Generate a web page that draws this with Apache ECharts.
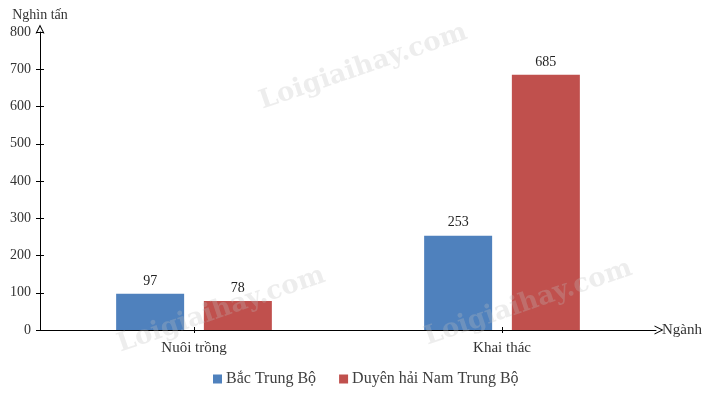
<!DOCTYPE html>
<html>
<head>
<meta charset="utf-8">
<script src="https://cdn.jsdelivr.net/npm/echarts@6/dist/echarts.min.js"></script>
<style>html,body{margin:0;padding:0;background:#fff}#c{width:706px;height:393px}</style>
</head>
<body>
<div id="c"></div>
<script>
const categories = ['Nuôi trồng', 'Khai thác'];
const seriesNames = ['Bắc Trung Bộ', 'Duyên hải Nam Trung Bộ'];
const bacTrungBo = [97, 253];
const duyenHaiNTB = [78, 685];
const yTicks = [0, 100, 200, 300, 400, 500, 600, 700, 800];

const FONT = '"Liberation Serif", "Times New Roman", serif';
const arrowUp = 'path://M0,10 L5,0 L10,10 L8.8,10 L5,2.4 L1.2,10 Z';
const chart = echarts.init(document.getElementById('c'));
const wmStyle = { text: 'Loigiaihay.com', fontFamily: '"DejaVu Serif", serif', fontWeight: 'bold', fontSize: 26, fill: 'rgba(190,190,190,0.28)' };
chart.setOption({
  animation: false,
  grid: { left: 40, right: 50, top: 32, bottom: 63, containLabel: false },
  legend: {
    top: 366, left: 208, itemWidth: 9, itemHeight: 9, itemGap: 23,
    icon: 'rect',
    textStyle: { fontFamily: FONT, fontSize: 16, color: '#404040', padding: [0,0,0,-1] },
    data: seriesNames
  },
  xAxis: [{
    type: 'category', data: categories,
    axisLine: { lineStyle: { color: '#000', width: 1 }, symbol: ['none', arrowUp], symbolSize: [9, 11], symbolOffset: [0, 3] },
    axisTick: { show: true, alignWithLabel: true, length: 3, lineStyle: { color: '#000' } },
    axisLabel: { fontFamily: FONT, fontSize: 15, color: '#333', margin: 11 },
    name: 'Ngành', nameLocation: 'end', nameGap: 6,
    nameTextStyle: { fontFamily: FONT, fontSize: 15, color: '#333', verticalAlign: 'middle' }
  }, {
    type: 'category', data: categories, position: 'bottom',
    axisLine: { show: false },
    axisTick: { show: true, inside: true, alignWithLabel: true, length: 3, lineStyle: { color: '#000' } },
    axisLabel: { show: false }
  }],
  yAxis: [{
    type: 'value', min: 0, max: 800, interval: 100,
    axisLine: { show: true, lineStyle: { color: '#000', width: 1 }, symbol: ['none', arrowUp], symbolSize: [9, 11], symbolOffset: [0, 3] },
    axisTick: { show: true, length: 4, lineStyle: { color: '#000' } },
    axisLabel: { fontFamily: FONT, fontSize: 14, color: '#333', margin: 9,
      formatter: v => yTicks.includes(v) ? String(v) : '' },
    splitLine: { show: false },
    name: 'Nghìn tấn', nameLocation: 'end', nameGap: 10,
    nameTextStyle: { fontFamily: FONT, fontSize: 14, color: '#333', align: 'center' }
  }, {
    type: 'value', min: 0, max: 800, interval: 100, position: 'left',
    axisLine: { show: false },
    axisTick: { show: true, inside: true, length: 4, lineStyle: { color: '#000' } },
    axisLabel: { show: false }, splitLine: { show: false }
  }],
  series: [{
    name: seriesNames[0], type: 'bar', data: bacTrungBo, barWidth: 68, barGap: '29%',
    itemStyle: { color: '#4F81BD' },
    label: { show: true, position: 'top', distance: 6, fontFamily: FONT, fontSize: 14, color: '#222' }
  }, {
    name: seriesNames[1], type: 'bar', data: duyenHaiNTB, barWidth: 68,
    itemStyle: { color: '#C0504D' },
    label: { show: true, position: 'top', distance: 6, fontFamily: FONT, fontSize: 14, color: '#222' }
  }],
  graphic: [
    { type: 'text', x: 256, y: 90, rotation: 0.33, style: wmStyle, silent: true, z: 100 },
    { type: 'text', x: 114, y: 333, rotation: 0.33, style: wmStyle, silent: true, z: 100 },
    { type: 'text', x: 421, y: 326, rotation: 0.33, style: wmStyle, silent: true, z: 100 }
  ]
});
</script>
</body>
</html>
